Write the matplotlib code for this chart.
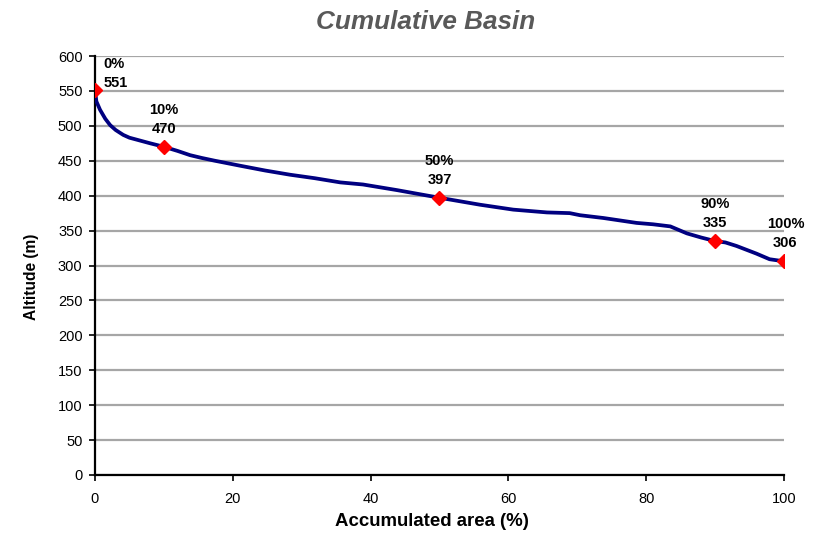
import matplotlib
matplotlib.use("Agg")
import matplotlib.pyplot as plt

plt.rcParams['font.family'] = ['Liberation Sans', 'DejaVu Sans']

# Hypsometric curve: accumulated basin area (%) vs altitude (m)
area_pct = [0, 0.2, 0.73, 1.5, 2.2, 3.0, 4.1, 5.0, 6.5, 8.0, 10, 12, 13.8, 15.5,
            17.4, 21, 24.7, 28.3, 31.9, 35.6, 38.9, 43.8, 50, 55.9, 60.7, 65.6,
            68.9, 70.4, 73.8, 78.6, 81, 83.5, 85.9, 88, 90, 91.5, 93.1, 96,
            97.9, 100]
altitude = [551, 535, 523, 510, 501, 494, 487, 483, 479, 475, 470, 464, 458, 454,
            450, 443, 436, 430, 425, 419, 416, 408, 397, 387, 380, 376,
            375, 372, 368, 361, 359, 356, 346, 340, 335, 333, 328, 317,
            309, 306]

# Highlighted percentiles
key_pct = [0, 10, 50, 90, 100]
key_alt = [551, 470, 397, 335, 306]

fig = plt.figure(figsize=(8.2, 5.43), dpi=100)
ax = fig.add_axes([95/820, 1-475/543, (784-95)/820, (475-56)/543])

ax.plot(area_pct, altitude, color='#000080', lw=2.7, zorder=3,
        solid_joinstyle='round', solid_capstyle='round')
ax.plot(key_pct, key_alt, linestyle='none', marker='D', color='#ff0000',
        markersize=7, zorder=4)

for p, a in zip(key_pct, key_alt):
    label = f"{p}%\n{a}"
    if p == 0:
        ax.annotate(label, (p, a), xytext=(6, 0), textcoords='offset points',
                    ha='left', va='bottom', fontsize=10.5, fontweight='bold',
                    linespacing=1.45)
    else:
        ax.annotate(label, (p, a), xytext=(1 if p == 100 else 0, 8),
                    textcoords='offset points', ha='center', va='bottom',
                    fontsize=10.5, fontweight='bold', linespacing=1.45)

ax.set_xlim(0, 100)
ax.set_ylim(0, 600)
ax.set_xticks(range(0, 101, 20))
ax.set_yticks(range(0, 601, 50))
ax.grid(axis='y', color='#a6a6a6', lw=1.6)
ax.set_axisbelow(True)
for s in ['top', 'right']:
    ax.spines[s].set_visible(False)
for s in ['left', 'bottom']:
    ax.spines[s].set_linewidth(1.6)
ax.tick_params(axis='both', direction='out', length=4, width=1.2,
               labelsize=10.5, colors='black', pad=5)
ax.tick_params(axis='x', pad=8)

fig.text(432/820, 1-522/543, 'Accumulated area (%)', ha='center', va='center',
         fontsize=13.4, fontweight='bold')
fig.text(32/820, 1-277/543, 'Altitude (m)', ha='center', va='center',
         rotation=90, fontsize=11.2, fontweight='bold')

fig.text(426/820, 1-22/543, 'Cumulative Basin', ha='center', va='center',
         fontsize=18.8, fontweight='bold', fontstyle='italic', color='#595959')

fig.savefig('out.png', dpi=100)
